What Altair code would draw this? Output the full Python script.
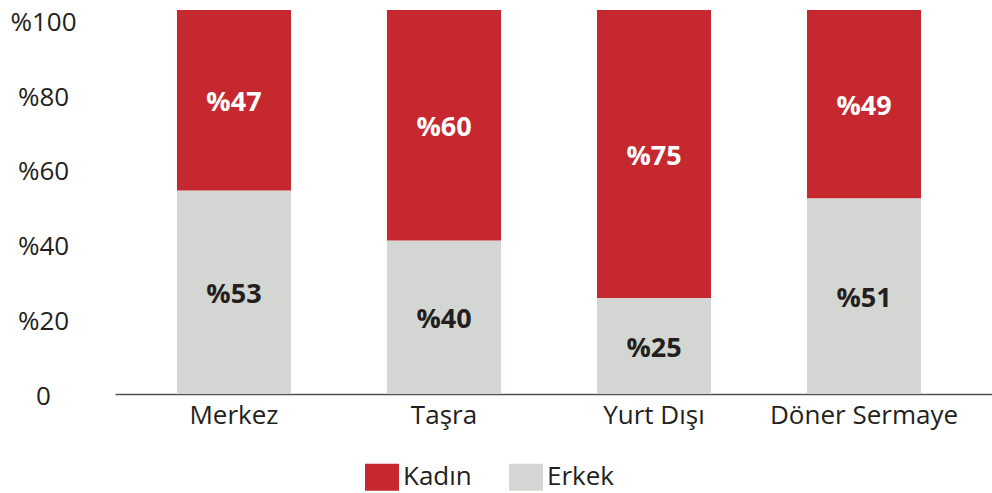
import altair as alt
import pandas as pd

categories = ["Merkez", "Taşra", "Yurt Dışı", "Döner Sermaye"]
kadin = [47, 60, 75, 49]
erkek = [53, 40, 25, 51]
series = ["Kadın", "Erkek"]
colors = ["#C5282F", "#D4D6D3"]
tick_values = [0, 20, 40, 60, 80, 100]

rows = []
for c, k, e in zip(categories, kadin, erkek):
    rows.append({"cat": c, "series": "Erkek", "value": e, "ord": 0,
                 "label": "%" + str(e), "tc": "#231F20"})
    rows.append({"cat": c, "series": "Kadın", "value": k, "ord": 1,
                 "label": "%" + str(k), "tc": "#FFFFFF"})
df = pd.DataFrame(rows)
axis_df = pd.DataFrame({"v": tick_values})

FONT = "Open Sans"

x_enc = alt.X("cat:N", sort=categories, title=None,
              scale=alt.Scale(paddingInner=0.457, paddingOuter=0.3165, align=0.466),
              axis=alt.Axis(labelAngle=0, labelFontSize=26, labelFont=FONT,
                            labelColor="#231F20", ticks=False, labelPadding=8,
                            labelLimit=400,
                            domainColor="#4D5257", domainWidth=1.5))

y_scale = alt.Scale(domain=[0, 100], nice=False)

bars = alt.Chart(df).mark_bar().encode(
    x=x_enc,
    y=alt.Y("value:Q", stack="zero", scale=y_scale, axis=None),
    color=alt.Color("series:N", scale=alt.Scale(domain=series, range=colors),
                    legend=alt.Legend(
                        title=None, orient="none", direction="horizontal",
                        legendX=250, legendY=450, padding=0,
                        symbolType="M-1,-0.79L1,-0.79L1,0.79L-1,0.79Z",
                        symbolSize=1156, symbolStrokeWidth=0, symbolOpacity=1,
                        labelFontSize=26, labelFont=FONT, labelColor="#231F20",
                        labelOffset=4, columnPadding=37)),
    order=alt.Order("ord:Q"),
)

texts = alt.Chart(df).transform_stack(
    stack="value", groupby=["cat"], sort=[alt.SortField("ord")], as_=["y0", "y1"]
).transform_calculate(
    mid="(datum.y0 + datum.y1) / 2"
).mark_text(font=FONT, fontSize=27, fontWeight="bold", baseline="middle", dy=3).encode(
    x=alt.X("cat:N", sort=categories),
    y=alt.Y("mid:Q", scale=y_scale, axis=None),
    text="label:N",
    color=alt.Color("tc:N", scale=None, legend=None),
)

yaxis = alt.Chart(axis_df).mark_tick(opacity=0).encode(
    y=alt.Y("v:Q", title=None,
            scale=alt.Scale(domain=[0, 102.8], nice=False, zero=False),
            axis=alt.Axis(values=tick_values, domain=False, ticks=False, grid=False,
                          labelAlign="center", labelBaseline="middle",
                          labelOffset=2, labelPadding=72, labelFontSize=26,
                          labelFont=FONT, labelColor="#231F20", labelBound=False,
                          labelOverlap=False,
                          labelExpr="datum.value == 0 ? '0' : '%' + datum.value")),
)

chart = alt.layer(bars, texts, yaxis).resolve_scale(y="independent").properties(
    width=877, height=384,
    autosize=alt.AutoSizeParams(type="none"),
    padding={"left": 115, "top": 10, "right": 0, "bottom": 99},
).configure(background="white").configure_view(stroke=None)

chart.save("out.html", embed_options={"renderer": "svg", "actions": False})
